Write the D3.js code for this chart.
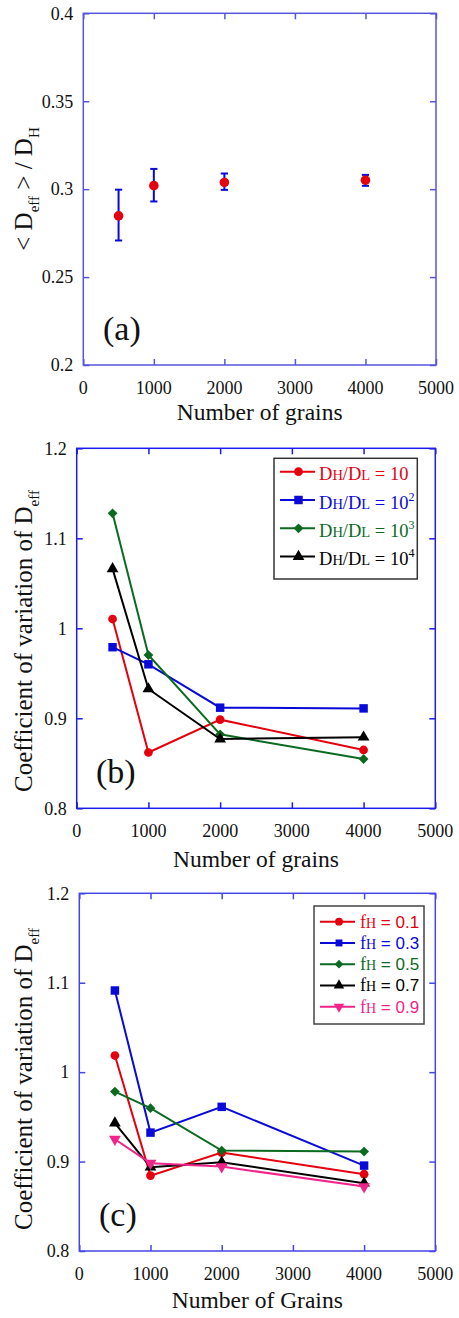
<!DOCTYPE html>
<html><head><meta charset="utf-8">
<script src="https://cdn.jsdelivr.net/npm/d3@7"></script>
<style>
html,body{margin:0;padding:0;background:#fff;}
svg{display:block;}
text{font-family:"Liberation Serif","Times New Roman",Times,serif;fill:#111;}
</style></head>
<body>
<svg id="c" width="459" height="1318" font-family="Liberation Serif, Times New Roman, Times, serif"></svg>
<script>
// ---------- data ----------
const grains = [500, 1000, 2000, 4000];
const xTicks = [0, 1000, 2000, 3000, 4000, 5000];
const xTickLabels = ["0", "1000", "2000", "3000", "4000", "5000"];

// panel (a)
const meanDeff = [0.2848, 0.3020, 0.3038, 0.3051];
const errLow   = [0.2708, 0.2930, 0.2996, 0.3019];
const errHigh  = [0.2997, 0.3115, 0.3089, 0.3081];
const yTicksA = [0.2, 0.25, 0.3, 0.35, 0.4];
const yTickLabelsA = ["0.2", "0.25", "0.3", "0.35", "0.4"];

// panel (b)
const cvRatio10    = [1.0103, 0.8620, 0.8985, 0.8648];
const cvRatio100   = [0.9790, 0.9600, 0.9118, 0.9110];
const cvRatio1000  = [1.1278, 0.9703, 0.8822, 0.8548];
const cvRatio10000 = [1.0660, 0.9326, 0.8770, 0.8790];
const ratioExponents = ["", "2", "3", "4"];

// panel (c)
const cvFh01 = [1.0186, 0.8843, 0.9101, 0.8859];
const cvFh03 = [1.0913, 0.9324, 0.9612, 0.8955];
const cvFh05 = [0.9783, 0.9597, 0.9123, 0.9112];
const cvFh07 = [0.9430, 0.8937, 0.8993, 0.8758];
const cvFh09 = [0.9250, 0.8982, 0.8944, 0.8720];
const fhLabels = ["0.1", "0.3", "0.5", "0.7", "0.9"];

const yTicksBC = [0.8, 0.9, 1.0, 1.1, 1.2];
const yTickLabelsBC = ["0.8", "0.9", "1", "1.1", "1.2"];

// ---------- styles ----------
const RED = "#e4000f", BLUE = "#0a0ad8", GREEN = "#0b6a1f", BLACK = "#000000", PINK = "#f0248a";
const svg = d3.select("#c");

function frame(p) {
  const g = svg.append("g");
  const x = d3.scaleLinear().domain([0, 5000]).range([p.x0, p.x1]);
  const y = d3.scaleLinear().domain(p.yDomain).range([p.y1, p.y0]);
  const tl = 6;
  const axB = d3.axisBottom(x).tickValues(xTicks).tickSize(-tl).tickFormat("");
  const axT = d3.axisTop(x).tickValues(xTicks).tickSize(-tl).tickFormat("");
  const axL = d3.axisLeft(y).tickValues(p.yTicks).tickSize(-tl).tickFormat("");
  const axR = d3.axisRight(y).tickValues(p.yTicks).tickSize(-tl).tickFormat("");
  [[axB, `translate(0,${p.y1})`], [axT, `translate(0,${p.y0})`], [axL, `translate(${p.x0},0)`], [axR, `translate(${p.x1},0)`]]
    .forEach(([ax, tr]) => {
      const a = g.append("g").attr("transform", tr).call(ax);
      a.select(".domain").remove();
      a.selectAll("line").attr("stroke", p.color).attr("stroke-width", 1.5);
    });
  g.append("rect").attr("x", p.x0).attr("y", p.y0).attr("width", p.x1 - p.x0).attr("height", p.y1 - p.y0)
    .attr("fill", "none").attr("stroke", p.color).attr("stroke-width", 1.5);
  g.selectAll(".xl").data(xTicks).enter().append("text")
    .attr("x", d => x(d)).attr("y", p.y1 + 29).attr("text-anchor", "middle")
    .style("font-size", "18px").text((d, i) => xTickLabels[i]);
  g.selectAll(".yl").data(p.yTicks).enter().append("text")
    .attr("x", p.x0 - 10).attr("y", d => y(d)).attr("dy", "0.35em").attr("text-anchor", "end")
    .style("font-size", "18px").text((d, i) => p.yTickLabels[i]);
  g.append("text").attr("x", (p.x0 + p.x1) / 2).attr("y", p.xTitleY).attr("text-anchor", "middle")
    .style("font-size", "23.5px").text(p.xTitle);
  g.append("text").attr("x", p.letterX).attr("y", p.letterY).style("font-size", "34px").text(p.letter);
  return { g, x, y };
}

function yTitle(parts, cy) {
  const t = svg.append("text").attr("transform", `translate(32,${cy}) rotate(-90)`)
    .attr("text-anchor", "middle").style("font-size", "25px");
  let shifted = 0;
  parts.forEach(([s, sub]) => {
    const ts = t.append("tspan").text(s);
    if (sub && !shifted) { ts.attr("dy", 7).style("font-size", "15px"); shifted = 1; }
    else if (!sub && shifted) { ts.attr("dy", -7); shifted = 0; }
  });
}

// marker path + extra rotation
function marker(type, size) {
  if (type === "down") return [d3.symbol().type(d3.symbolTriangle).size(size)(), " rotate(180)"];
  if (type === "diamond") return [d3.symbol().type(d3.symbolSquare).size(size)(), " rotate(45)"];
  return [d3.symbol().type(type).size(size)(), ""];
}

function series(P, vals, color, type, size) {
  const line = d3.line().x((d, i) => P.x(grains[i])).y(d => P.y(d));
  P.g.append("path").attr("d", line(vals)).attr("fill", "none").attr("stroke", color).attr("stroke-width", 2);
  const [d, rot] = marker(type, size);
  P.g.selectAll(null).data(vals).enter().append("path")
    .attr("d", d)
    .attr("transform", (v, i) => `translate(${P.x(grains[i])},${P.y(v)})` + rot)
    .attr("fill", color);
}

// ---------- panel (a) ----------
const A = frame({ x0: 83.3, x1: 436, y0: 13.3, y1: 365, yDomain: [0.2, 0.4], yTicks: yTicksA, yTickLabels: yTickLabelsA,
  color: "#5656dc", xTitle: "Number of grains", xTitleY: 420, letter: "(a)", letterX: 103, letterY: 340 });
meanDeff.forEach((m, i) => {
  const cx = A.x(grains[i]);
  A.g.append("line").attr("x1", cx).attr("x2", cx).attr("y1", A.y(errLow[i])).attr("y2", A.y(errHigh[i]))
    .attr("stroke", "#0a0ad8").attr("stroke-width", 2);
  [errLow[i], errHigh[i]].forEach(v => A.g.append("line").attr("x1", cx - 3.6).attr("x2", cx + 3.6)
    .attr("y1", A.y(v)).attr("y2", A.y(v)).attr("stroke", "#0a0ad8").attr("stroke-width", 2));
});
A.g.selectAll(null).data(meanDeff).enter().append("circle")
  .attr("cx", (d, i) => A.x(grains[i])).attr("cy", d => A.y(d)).attr("r", 4.8).attr("fill", RED);
yTitle([["< D", 0], ["eff", 1], [" > / D", 0], ["H", 1]], 189);

// ---------- panel (b) ----------
const B = frame({ x0: 76.7, x1: 435.3, y0: 448.3, y1: 808.3, yDomain: [0.8, 1.2], yTicks: yTicksBC, yTickLabels: yTickLabelsBC,
  color: "#1c1cee", xTitle: "Number of grains", xTitleY: 867, letter: "(b)", letterX: 96, letterY: 783 });
const bSeries = [[cvRatio10, RED, d3.symbolCircle, 60], [cvRatio100, BLUE, d3.symbolSquare, 72],
                 [cvRatio1000, GREEN, "diamond", 48], [cvRatio10000, BLACK, d3.symbolTriangle, 60]];
bSeries.forEach(s => series(B, s[0], s[1], s[2], s[3]));
yTitle([["Coefficient of variation of D", 0], ["eff", 1]], 641);

// legend (b)
svg.append("rect").attr("x", 274).attr("y", 458.3).attr("width", 143.3).attr("height", 120.7)
  .attr("fill", "#fff").attr("stroke", "#333").attr("stroke-width", 1.5);
bSeries.forEach((s, i) => {
  const ly = 471.7 + i * 28.3;
  svg.append("line").attr("x1", 280).attr("x2", 315).attr("y1", ly).attr("y2", ly).attr("stroke", s[1]).attr("stroke-width", 2);
  const [d, rot] = marker(s[2], s[3]);
  svg.append("path").attr("d", d).attr("transform", `translate(298.5,${ly})` + rot).attr("fill", s[1]);
  const t = svg.append("text").attr("x", 319).attr("y", ly + 8.5).style("font-size", "18.5px").style("fill", s[1]);
  t.append("tspan").text("D");
  t.append("tspan").style("font-size", "14.5px").text("H");
  t.append("tspan").text("/D");
  t.append("tspan").style("font-size", "14.5px").text("L");
  t.append("tspan").text(" = 10");
  if (ratioExponents[i]) t.append("tspan").attr("dy", -8).style("font-size", "12px").text(ratioExponents[i]);
});

// ---------- panel (c) ----------
const C = frame({ x0: 79.3, x1: 435.3, y0: 893.3, y1: 1251, yDomain: [0.8, 1.2], yTicks: yTicksBC, yTickLabels: yTickLabelsBC,
  color: "#4646e4", xTitle: "Number of Grains", xTitleY: 1308, letter: "(c)", letterX: 99, letterY: 1226 });
const cSeries = [[cvFh01, RED, d3.symbolCircle, 60], [cvFh03, BLUE, d3.symbolSquare, 72],
                 [cvFh05, GREEN, "diamond", 48], [cvFh07, BLACK, d3.symbolTriangle, 60], [cvFh09, PINK, "down", 60]];
cSeries.forEach(s => series(C, s[0], s[1], s[2], s[3]));
yTitle([["Coefficient of variation of D", 0], ["eff", 1]], 1079);

// legend (c)
svg.append("rect").attr("x", 314).attr("y", 906).attr("width", 110).attr("height", 118)
  .attr("fill", "#fff").attr("stroke", "#444").attr("stroke-width", 1.5);
cSeries.forEach((s, i) => {
  const ly = 921.7 + i * 21.25;
  svg.append("line").attr("x1", 320).attr("x2", 355).attr("y1", ly).attr("y2", ly).attr("stroke", s[1]).attr("stroke-width", 2);
  const [d, rot] = marker(s[2], s[2] === "diamond" ? 38 : 48);
  svg.append("path").attr("d", d).attr("transform", `translate(339,${ly})` + rot).attr("fill", s[1]);
  const t = svg.append("text").attr("x", 360).attr("y", ly + 6).style("font-size", "18px").style("fill", s[1]);
  t.append("tspan").text("f");
  t.append("tspan").style("font-size", "14px").text("H");
  t.append("tspan").style("font-family", "'Liberation Sans', Arial, sans-serif").style("font-size", "17px").text(" = " + fhLabels[i]);
});
</script>
</body></html>
